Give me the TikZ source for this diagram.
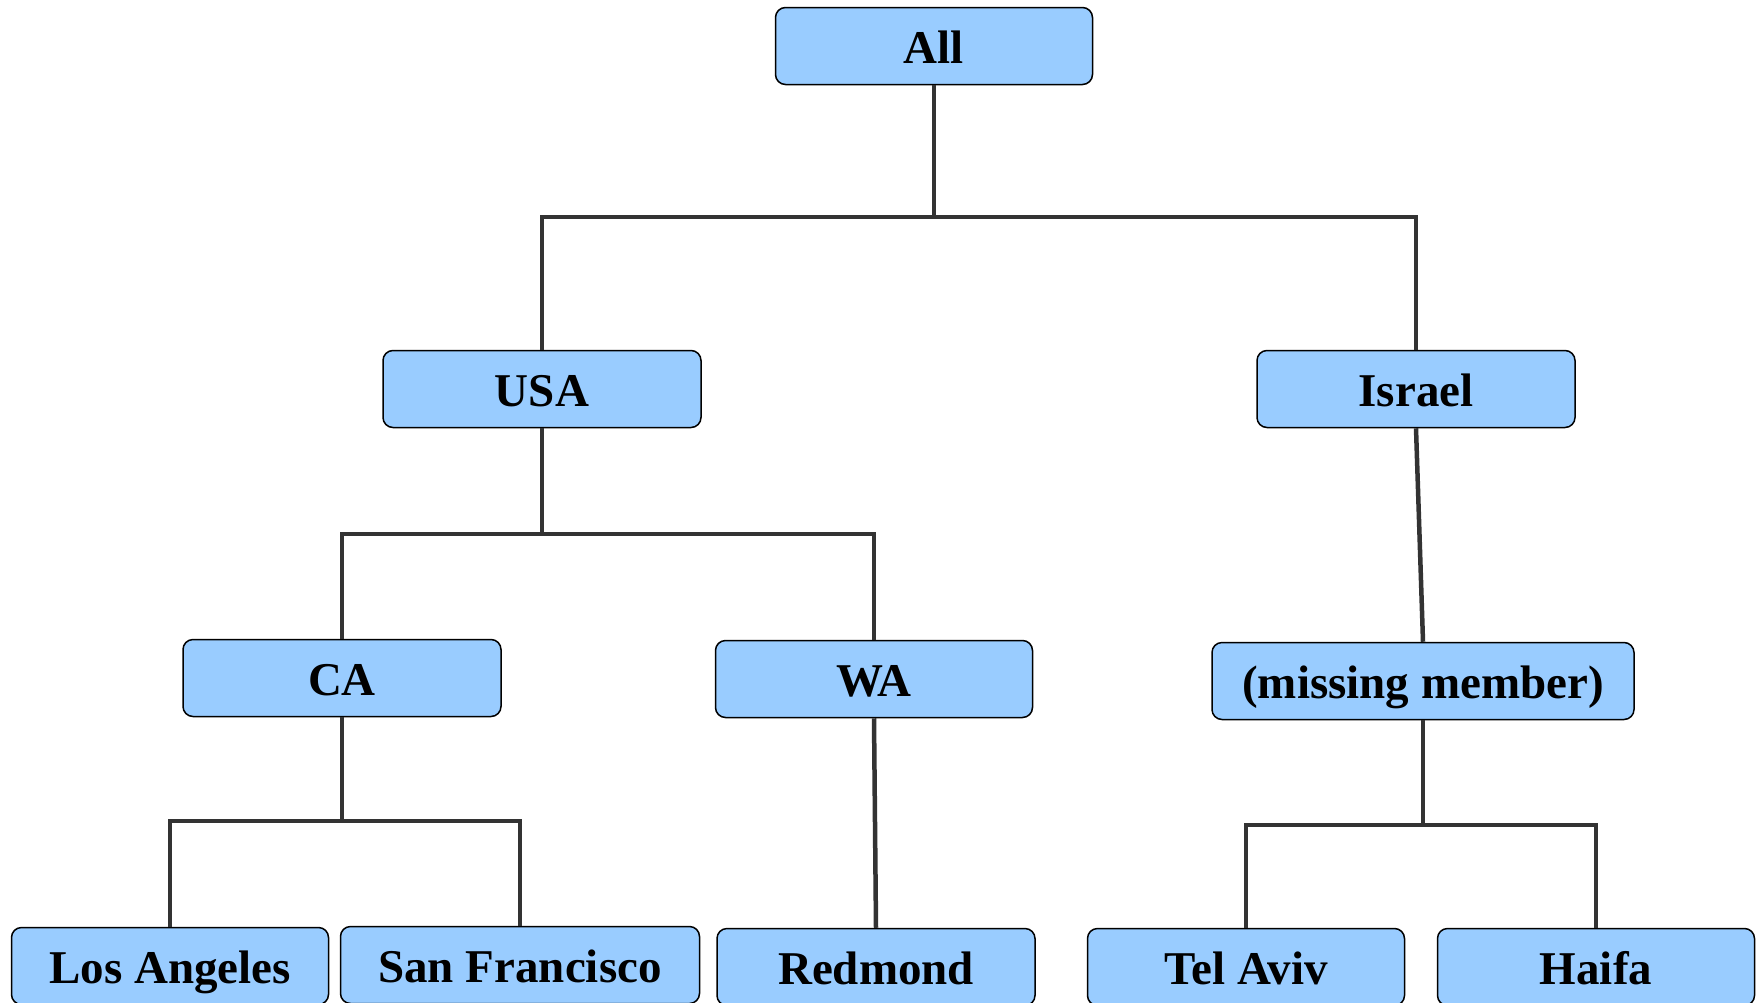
\documentclass[tikz,border=0pt]{standalone}
\usepackage{fontspec}
\setmainfont{Liberation Serif}
\begin{document}
\begin{tikzpicture}[x=1pt,y=-1pt,
  box/.style={draw=black, line width=1.5pt, fill=boxblue, rounded corners=10pt,
    minimum height=77pt, inner sep=0pt, font=\fontsize{47}{56}\selectfont\bfseries,
    text height=37pt, text depth=3pt},
  link/.style={draw=linegray, line width=4.5pt}]
\definecolor{boxblue}{HTML}{99CCFF}
\definecolor{linegray}{HTML}{333333}
\useasboundingbox (0,0) rectangle (1762,1002);
\node[box, minimum width=317pt] (all) at (934,46) {All};
\node[box, minimum width=318pt] (usa) at (542,389) {USA};
\node[box, minimum width=318pt] (isr) at (1416,389) {Israel};
\node[box, minimum width=318pt] (ca) at (342,678) {CA};
\node[box, minimum width=317pt] (wa) at (874,679) {WA};
\node[box, minimum width=422pt] (miss) at (1423,681) {(missing member)};
\node[box, minimum width=317pt] (la) at (170,966) {Los Angeles};
\node[box, minimum width=359pt] (sf) at (520,965) {San Francisco};
\node[box, minimum width=318pt] (red) at (876,967) {Redmond};
\node[box, minimum width=317pt] (tlv) at (1246,967) {Tel Aviv};
\node[box, minimum width=317pt] (hai) at (1596,967) {Haifa};
\coordinate (j1) at (934,217);
\coordinate (j2) at (542,534);
\coordinate (j3) at (342,821);
\coordinate (j4) at (1423,825);
\draw[link] (all.south) -- (j1);
\draw[link] (j1) -| (usa.north);
\draw[link] (j1) -| (isr.north);
\draw[link] (usa.south) -- (j2);
\draw[link] (j2) -| (ca.north);
\draw[link] (j2) -| (wa.north);
\draw[link] (isr.south) -- (miss.north);
\draw[link] (ca.south) -- (j3);
\draw[link] (j3) -| (la.north);
\draw[link] (j3) -| (sf.north);
\draw[link] (wa.south) -- (red.north);
\draw[link] (miss.south) -- (j4);
\draw[link] (j4) -| (tlv.north);
\draw[link] (j4) -| (hai.north);
\end{tikzpicture}
\end{document}
